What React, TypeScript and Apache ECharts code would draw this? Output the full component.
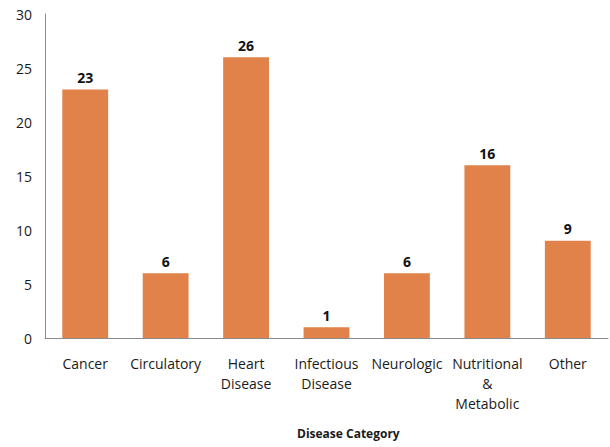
import React, { useEffect, useRef } from "react";
import * as echarts from "echarts";

const categories = [
  "Cancer",
  "Circulatory",
  "Heart\nDisease",
  "Infectious\nDisease",
  "Neurologic",
  "Nutritional\n&\nMetabolic",
  "Other",
];
const values = [23, 6, 26, 1, 6, 16, 9];
const axisTitle = "Disease Category";

const FONT = "'Open Sans', Lato, sans-serif";

export default function App() {
  const ref = useRef<HTMLDivElement>(null);
  useEffect(() => {
    if (!ref.current) return;
    const chart = echarts.init(ref.current, undefined, { renderer: "svg" });
    chart.setOption({
      animation: false,
      textStyle: { fontFamily: FONT },
      grid: { left: 45, right: 2, top: 14, bottom: 109 },
      xAxis: {
        type: "category",
        data: categories,
        axisLine: { lineStyle: { color: "#8c8c8c", width: 1 } },
        axisTick: { show: false },
        axisLabel: {
          color: "#1a1a1a",
          fontSize: 14,
          fontFamily: FONT,
          lineHeight: 20,
          margin: 15,
          interval: 0,
        },
      },
      yAxis: {
        type: "value",
        min: 0,
        max: 30,
        interval: 5,
        splitLine: { show: false },
        axisLine: { show: true, lineStyle: { color: "#8c8c8c", width: 1 } },
        axisTick: { show: false },
        axisLabel: {
          color: "#1a1a1a",
          fontSize: 14,
          fontFamily: FONT,
          margin: 13,
        },
      },
      graphic: [
        {
          type: "text",
          left: 297,
          top: 427,
          style: {
            text: axisTitle,
            fontFamily: FONT,
            fontSize: 12,
            fontWeight: "bold",
            fill: "#1a1a1a",
          },
        },
      ],
      series: [
        {
          type: "bar",
          data: values,
          barWidth: "57%",
          itemStyle: { color: "#E0824A" },
          label: {
            show: true,
            position: "top",
            distance: 5,
            color: "#111",
            fontWeight: "bold",
            fontSize: 14,
            fontFamily: FONT,
          },
        },
      ],
    });
    return () => chart.dispose();
  }, []);
  return (
    <div
      ref={ref}
      style={{ width: 610, height: 447, position: "absolute", left: 0, top: 0 }}
    />
  );
}
